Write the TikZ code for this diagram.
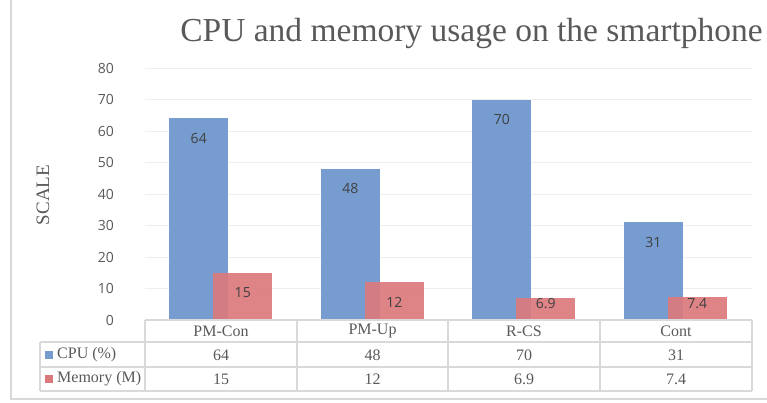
\documentclass[tikz,border=0pt]{standalone}
\usepackage{fontspec}
\setmainfont{Liberation Serif}
\newfontfamily\numfont{Open Sans}

\definecolor{cpublue}{RGB}{118,156,208}
\definecolor{memred}{RGB}{219,122,125}
\definecolor{gridgray}{RGB}{238,238,238}
\definecolor{rulegray}{RGB}{217,217,217}
\definecolor{textgray}{RGB}{89,89,89}
\definecolor{labelgray}{RGB}{64,64,64}

\begin{document}
\begin{tikzpicture}[x=1pt, y=-1pt,
    bar/.style={rectangle, inner sep=0pt, outer sep=0pt, minimum width=59pt, anchor=south},
    cpubar/.style={bar, fill=cpublue},
    membar/.style={bar, fill=memred, fill opacity=0.92},
    key/.style={rectangle, inner sep=0pt, minimum size=8pt},
    val/.style={font=\numfont\fontsize{14}{16}\selectfont, text=labelgray, inner sep=0pt},
    tick/.style={font=\numfont\fontsize{14}{16}\selectfont, text=textgray, anchor=east, inner sep=0pt},
    cell/.style={font=\fontsize{16}{18}\selectfont, text=textgray, inner sep=0pt},
    rule/.style={rulegray, line width=1.5pt}]
    \useasboundingbox (0,0) rectangle (767,402);

    % chart frame
    \draw[rule] (11,0) -- (11,399) -- (767,399);

    % title and axis label
    \node[font=\fontsize{33.5}{36}\selectfont, text=textgray, anchor=base] (title) at (471.5,41)
        {CPU and memory usage on the smartphone};
    \node[font=\fontsize{19}{21}\selectfont, text=textgray, rotate=90] (ylabel) at (43,195) {SCALE};

    % grid and scale, 3.15 per unit
    \foreach \v in {1,...,8}
        \draw[gridgray, line width=1pt] (145,{320-31.5*\v}) -- (752,{320-31.5*\v});
    \foreach \t [count=\i from 0] in {0,10,...,80}
        \node[tick] (tick\i) at (114,{320-31.5*\i}) {\t};

    % bars
    \node[cpubar, minimum height=64*3.15pt] (cpuPMCon) at (198.75,320) {};
    \node[membar, minimum height=15*3.15pt] (memPMCon) at (242.75,320) {};
    \node[cpubar, minimum height=48*3.15pt] (cpuPMUp) at (350.25,320) {};
    \node[membar, minimum height=12*3.15pt] (memPMUp) at (394.25,320) {};
    \node[cpubar, minimum height=70*3.15pt] (cpuRCS) at (501.75,320) {};
    \node[membar, minimum height=6.9*3.15pt] (memRCS) at (545.75,320) {};
    \node[cpubar, minimum height=31*3.15pt] (cpuCont) at (653.25,320) {};
    \node[membar, minimum height=7.4*3.15pt] (memCont) at (697.25,320) {};

    % values on the bars
    \node[val] (vCpuPMCon) at ([yshift=-20pt]cpuPMCon.north) {64};
    \node[val] (vMemPMCon) at ([yshift=-20pt]memPMCon.north) {15};
    \node[val] (vCpuPMUp) at ([yshift=-20pt]cpuPMUp.north) {48};
    \node[val] (vMemPMUp) at ([yshift=-20pt]memPMUp.north) {12};
    \node[val] (vCpuRCS) at ([yshift=-20pt]cpuRCS.north) {70};
    \node[val] (vMemRCS) at (545.75,304) {6.9};
    \node[val] (vCpuCont) at ([yshift=-20pt]cpuCont.north) {31};
    \node[val] (vMemCont) at (697.25,304) {7.4};

    % data table
    \draw[rule] (145,320) -- (752,320);
    \draw[rule] (40,342) -- (752,342);
    \draw[rule] (40,367) -- (752,367);
    \draw[rule] (40,391) -- (752,391);
    \draw[rule] (40,342) -- (40,391);
    \draw[rule] (145,320) -- (145,391);
    \draw[rule] (297,320) -- (297,391);
    \draw[rule] (448,320) -- (448,391);
    \draw[rule] (600,320) -- (600,391);
    \draw[rule] (752,320) -- (752,391);

    \node[cell] (hPMCon) at (221,331) {PM-Con};
    \node[cell] (hPMUp) at (372.5,331) {PM-Up};
    \node[cell] (hRCS) at (524,331) {R-CS};
    \node[cell] (hCont) at (676,331) {Cont};

    \node[key, fill=cpublue] (keyCpu) at (49,355) {};
    \node[cell, anchor=west] (rowCpu) at (57,355) {CPU (\%)};
    \node[cell] (cCpuPMCon) at (221,355) {64};
    \node[cell] (cCpuPMUp) at (372.5,355) {48};
    \node[cell] (cCpuRCS) at (524,355) {70};
    \node[cell] (cCpuCont) at (676,355) {31};

    \node[key, fill=memred] (keyMem) at (49,379) {};
    \node[cell, anchor=west] (rowMem) at (57,379) {Memory (M)};
    \node[cell] (cMemPMCon) at (221,379) {15};
    \node[cell] (cMemPMUp) at (372.5,379) {12};
    \node[cell] (cMemRCS) at (524,379) {6.9};
    \node[cell] (cMemCont) at (676,379) {7.4};
\end{tikzpicture}
\end{document}
